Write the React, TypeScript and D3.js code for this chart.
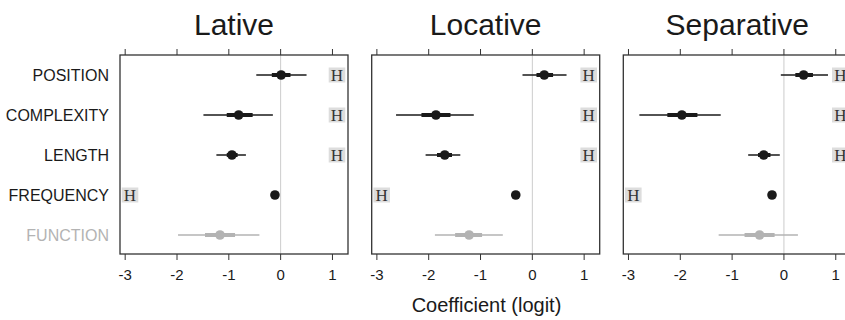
import React from "react";
import { scaleLinear, scalePoint } from "d3";

const panels = ["Lative", "Locative", "Separative"];
const predictors = ["POSITION", "COMPLEXITY", "LENGTH", "FREQUENCY", "FUNCTION"];
const ticks = [-3, -2, -1, 0, 1];

// estimates and intervals per panel, in predictor order
const estimate = [
  [0.01, -0.81, -0.94, -0.11, -1.17],
  [0.23, -1.86, -1.69, -0.32, -1.22],
  [0.38, -1.97, -0.39, -0.23, -0.47],
];
const outerLo = [
  [-0.47, -1.49, -1.24, -0.13, -1.98],
  [-0.19, -2.63, -2.06, -0.34, -1.88],
  [-0.06, -2.79, -0.69, -0.25, -1.26],
];
const outerHi = [
  [0.5, -0.15, -0.67, -0.09, -0.41],
  [0.66, -1.13, -1.39, -0.3, -0.57],
  [0.85, -1.22, -0.08, -0.21, 0.27],
];
const innerLo = [
  [-0.17, -1.04, -1.04, -0.12, -1.46],
  [0.08, -2.14, -1.84, -0.33, -1.49],
  [0.22, -2.25, -0.5, -0.24, -0.76],
];
const innerHi = [
  [0.19, -0.54, -0.83, -0.1, -0.88],
  [0.4, -1.58, -1.55, -0.31, -0.97],
  [0.56, -1.67, -0.26, -0.22, -0.18],
];
// where the "H" marker sits for each predictor
const hSide = ["right", "right", "right", "left", ""];

const sans = "'Liberation Sans', Arial, sans-serif";
const dark = "#1a1a1a";
const grey = "#b3b3b3";

const panelLeft = [120, 371.7, 623.3];
const panelW = 228;
const top = 55;
const bottom = 254;

const y = scalePoint<string>().domain(predictors).range([75, 235]);

export default function App() {
  return (
    <>
      <style>{`body{margin:0}`}</style>
      <svg width={845} height={320} style={{ display: "block", background: "#fff" }}>
        {predictors.map((p, i) => (
          <text
            key={p}
            x={109}
            y={y(p)!}
            dy="0.36em"
            textAnchor="end"
            fontFamily={sans}
            fontSize={16}
            fill={p === "FUNCTION" ? grey : dark}
          >
            {p}
          </text>
        ))}
        {panels.map((name, k) => {
          const left = panelLeft[k];
          const x = scaleLinear().domain([-3.1, 1.3]).range([left, left + panelW]);
          return (
            <g key={name}>
              <text
                x={left + panelW / 2}
                y={35}
                textAnchor="middle"
                fontFamily={sans}
                fontSize={30}
                fill={dark}
              >
                {name}
              </text>
              <line x1={x(0)} x2={x(0)} y1={top} y2={bottom} stroke="#cccccc" strokeWidth={1} />
              {predictors.map((p, i) => {
                const c = p === "FUNCTION" ? grey : dark;
                const yy = y(p)!;
                return (
                  <g key={p}>
                    <line x1={x(outerLo[k][i])} x2={x(outerHi[k][i])} y1={yy} y2={yy} stroke={c} strokeWidth={1.5} />
                    <line x1={x(innerLo[k][i])} x2={x(innerHi[k][i])} y1={yy} y2={yy} stroke={c} strokeWidth={4} />
                    <circle cx={x(estimate[k][i])} cy={yy} r={4.8} fill={c} />
                  </g>
                );
              })}
              {predictors.map((p, i) => {
                if (!hSide[i]) return null;
                const cx = hSide[i] === "right" ? left + panelW - 11 : left + 10;
                const yy = y(p)!;
                return (
                  <g key={"h" + p}>
                    <rect x={cx - 8.3} y={yy - 7.5} width={16.6} height={15} fill="#dddddd" />
                    <text
                      x={cx}
                      y={yy}
                      dy="0.35em"
                      textAnchor="middle"
                      fontFamily="'Liberation Serif', 'Times New Roman', serif"
                      fontSize={17}
                      fill="#333"
                    >
                      H
                    </text>
                  </g>
                );
              })}
              <rect
                x={left}
                y={top}
                width={panelW}
                height={bottom - top}
                fill="none"
                stroke="#333"
                strokeWidth={1.3}
              />
              {ticks.map((t) => (
                <g key={t}>
                  <line x1={x(t)} x2={x(t)} y1={top - 6} y2={top} stroke="#333" strokeWidth={1} />
                  <line x1={x(t)} x2={x(t)} y1={bottom} y2={bottom + 6} stroke="#333" strokeWidth={1} />
                  <text
                    x={x(t)}
                    y={280}
                    textAnchor="middle"
                    fontFamily={sans}
                    fontSize={15}
                    fill={dark}
                  >
                    {String(t)}
                  </text>
                </g>
              ))}
            </g>
          );
        })}
        <text
          x={486.5}
          y={312}
          textAnchor="middle"
          fontFamily={sans}
          fontSize={20}
          fill={dark}
        >
          Coefficient (logit)
        </text>
      </svg>
    </>
  );
}
